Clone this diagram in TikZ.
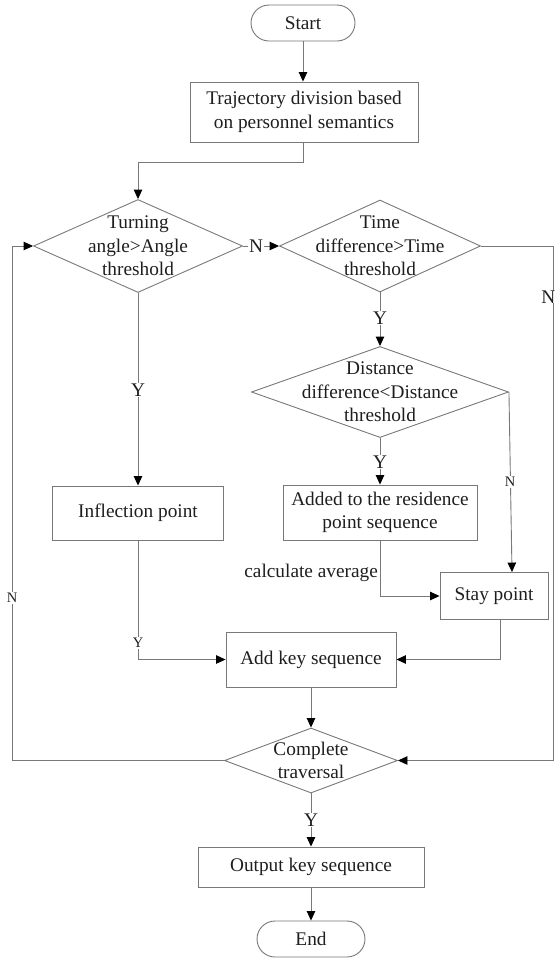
\documentclass[tikz,border=0pt]{standalone}
\usepackage{fontspec}
\setmainfont{Liberation Serif}
\usetikzlibrary{shapes.geometric,arrows.meta}
\definecolor{lc}{RGB}{120,120,120}
\definecolor{tc}{RGB}{30,30,30}
\tikzset{
  base/.style={draw=lc,line width=0.9pt,text=tc,font=\fontsize{19.3}{23.5}\selectfont,align=center,inner sep=0pt},
  box/.style={base,rectangle},
  term/.style={base,rectangle,rounded corners=18pt},
  dia/.style={draw=lc,line width=0.9pt,diamond,inner sep=0pt},
  dtext/.style={text=tc,font=\fontsize{19.3}{23.5}\selectfont,align=center,inner sep=0pt},
  conn/.style={draw=lc,line width=0.9pt},
  arr/.style={conn,-{Triangle[length=9.5pt,width=8.5pt,color=black]}},
  lbl/.style={text=tc,font=\fontsize{19.3}{23.5}\selectfont,fill=white,inner sep=1pt},
  slbl/.style={text=tc,font=\fontsize{14.5}{17}\selectfont,fill=white,inner sep=1pt}
}
\begin{document}
\begin{tikzpicture}[x=1pt,y=-1pt]
\useasboundingbox (0,0) rectangle (556,959);
% nodes
\node[term,minimum width=104pt,minimum height=36pt] (start) at (303,23) {Start};
\node[box,minimum width=228pt,minimum height=60pt] (traj) at (304,112) {Trajectory division based\\on personnel semantics};
\node[dia,minimum width=209pt,minimum height=93pt] (d1) at (138,246) {};
\node[dtext] (d1t) at (138,246) {Turning\\angle>Angle\\threshold};
\node[dia,minimum width=201pt,minimum height=92pt] (d2) at (380,246) {};
\node[dtext] (d2t) at (380,246) {Time\\difference>Time\\threshold};
\node[dia,minimum width=257pt,minimum height=91pt] (d3) at (380,392) {};
\node[dtext] (d3t) at (380,392) {Distance\\difference<Distance\\threshold};
\node[box,minimum width=171pt,minimum height=54pt] (infl) at (138,513) {Inflection point};
\node[box,minimum width=194pt,minimum height=55pt] (added) at (380,512.5) {Added to the residence\\point sequence};
\node[box,minimum width=108pt,minimum height=47pt] (stay) at (494,596) {Stay point};
\node[box,minimum width=170pt,minimum height=55pt] (addkey) at (311,659.5) {Add key sequence};
\node[dia,minimum width=173pt,minimum height=65pt] (d4) at (311,760.5) {};
\node[dtext] (d4t) at (311,760.5) {Complete\\traversal};
\node[box,minimum width=226pt,minimum height=40pt] (out) at (311,867) {Output key sequence};
\node[term,minimum width=108pt,minimum height=36pt] (end) at (311,939) {End};
% connectors
\draw[arr] (start) -- (start |- traj.north);
\coordinate (e1) at (303,162);
\coordinate (e2) at (138,162);
\draw[arr] (traj.south -| e1) -- (e1) -- (e2) -- (d1.north);
\draw[arr] (d1.east) -- (d2.west);
\draw[arr] (d2.south) -- (d3.north);
\draw[arr] (d1.south) -- (infl.north);
\draw[arr] (d3.south) -- (added.north);
\draw[arr] (d3.east) -- ([xshift=18pt]stay.north);
\draw[arr] (added.south) -- (added.south |- stay.west) -- (stay.west);
\draw[arr] (infl.south) -- (infl.south |- addkey.west) -- (addkey.west);
\coordinate (s2) at (500,619.5);
\draw[arr] (s2) -- (s2 |- addkey.east) -- (addkey.east);
\draw[arr] (addkey) -- (d4);
\draw[arr] (d4.south) -- (out.north);
\draw[arr] (out) -- (end);
\coordinate (l1) at (12,760.5);
\coordinate (l2) at (12,246);
\draw[arr] (d4.west) -- (l1) -- (l2) -- (d1.west);
\coordinate (r1) at (553,246);
\coordinate (r2) at (553,760.5);
\draw[arr] (d2.east) -- (r1) -- (r2) -- (d4.east);
% labels
\node[lbl] (n1) at (256,246) {N};
\node[lbl] (y1) at (380,318) {Y};
\node[lbl] (y2) at (138,390) {Y};
\node[lbl] (y3) at (380,462) {Y};
\node[slbl] (n2) at (510,482) {N};
\node[text=tc,font=\fontsize{19.3}{23.5}\selectfont,anchor=east,inner sep=0pt] (ca) at (378,573) {calculate average};
\node[slbl] (y4) at (138,643) {Y};
\node[slbl] (n3) at (12,598) {N};
\node[lbl,inner sep=0pt,anchor=east] (n4) at (555.5,297) {N};
\node[lbl] (y5) at (311,820) {Y};
\end{tikzpicture}
\end{document}
